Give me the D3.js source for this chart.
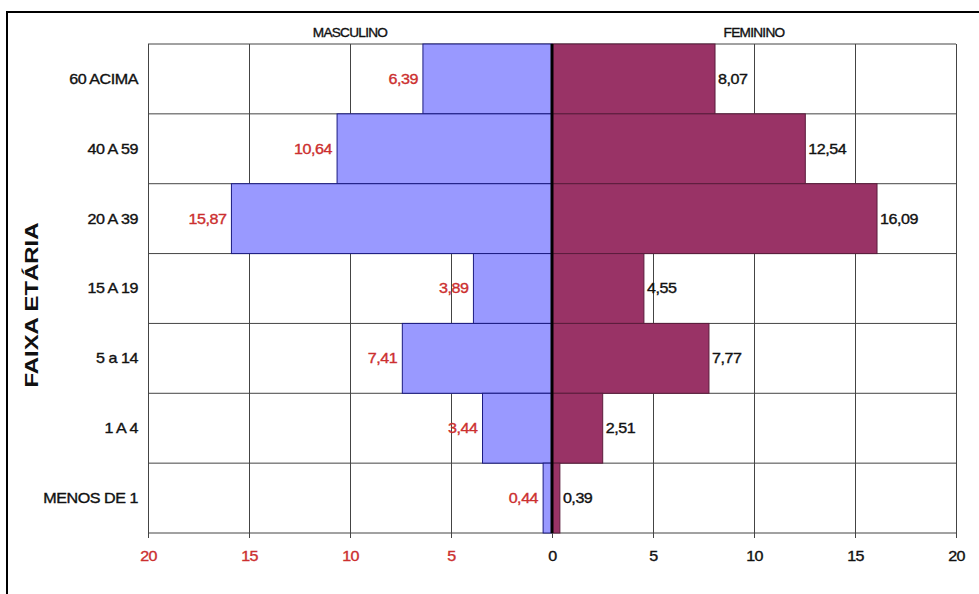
<!DOCTYPE html>
<html>
<head>
<meta charset="utf-8">
<script src="https://cdn.jsdelivr.net/npm/d3@7"></script>
<style>
  html, body { margin: 0; padding: 0; background: #fff; }
  svg { display: block; font-family: "Liberation Sans", Arial, sans-serif; }
  .lbl { stroke-width: 0.35px; }
</style>
</head>
<body>
<svg id="chart" width="979" height="594"></svg>
<script>
// Age groups, top to bottom
const categories = ["60 ACIMA", "40 A 59", "20 A 39", "15 A 19", "5 a 14", "1 A 4", "MENOS DE 1"];
// Percent of population by sex
const masculino = [6.39, 10.64, 15.87, 3.89, 7.41, 3.44, 0.44];
const feminino = [8.07, 12.54, 16.09, 4.55, 7.77, 2.51, 0.39];
// Axis ticks (negative side = male)
const tickValues = [-20, -15, -10, -5, 0, 5, 10, 15, 20];
const sideTitles = ["MASCULINO", "FEMININO"];
const axisTitle = "FAIXA ETÁRIA";

const W = 979, H = 594;
const plot = { left: 148, right: 956, top: 44, bottom: 533 };

const svg = d3.select("#chart");
const stretch = 1.15;
const red = "#cc2f2f", ink = "#111";

const x = d3.scaleLinear().domain([-20, 20]).range([plot.left, plot.right]);
const y = d3.scaleBand().domain(categories).range([plot.top, plot.bottom]).padding(0);

const ptBR = d3.formatLocale({ decimal: ",", thousands: ".", grouping: [3], currency: ["R$", ""] });
const fmt = ptBR.format(".2f");

// Outer frame (left and top edges)
svg.append("path")
  .attr("d", `M7,${H} V12 H${W}`)
  .attr("fill", "none").attr("stroke", "#000").attr("stroke-width", 2);

// Vertical grid lines
svg.append("g")
  .attr("transform", `translate(0,${plot.bottom})`)
  .call(d3.axisBottom(x).tickValues(tickValues).tickSize(-(plot.bottom - plot.top)).tickFormat(""))
  .call(g => g.select(".domain").remove())
  .call(g => g.selectAll("line").attr("stroke", "#444").attr("stroke-width", 1));

// Horizontal row lines
svg.append("g").selectAll("line")
  .data(categories.concat([null]))
  .join("line")
  .attr("x1", plot.left).attr("x2", plot.right)
  .attr("y1", d => d === null ? plot.bottom : y(d))
  .attr("y2", d => d === null ? plot.bottom : y(d))
  .attr("stroke", "#444").attr("stroke-width", 1);

// Male bars (to the left)
svg.append("g").selectAll("rect")
  .data(categories)
  .join("rect")
  .attr("x", (d, i) => x(-masculino[i]))
  .attr("y", d => y(d))
  .attr("width", (d, i) => x(0) - x(-masculino[i]))
  .attr("height", y.bandwidth())
  .attr("fill", "#9999FF")
  .attr("stroke", "#1a1a80").attr("stroke-width", 1);

// Female bars (to the right)
svg.append("g").selectAll("rect")
  .data(categories)
  .join("rect")
  .attr("x", x(0))
  .attr("y", d => y(d))
  .attr("width", (d, i) => x(feminino[i]) - x(0))
  .attr("height", y.bandwidth())
  .attr("fill", "#993366")
  .attr("stroke", "#5a1c3c").attr("stroke-width", 1);

// Zero line
svg.append("line")
  .attr("x1", x(0)).attr("x2", x(0))
  .attr("y1", plot.top).attr("y2", plot.bottom)
  .attr("stroke", "#000").attr("stroke-width", 3);

// Bottom axis with short ticks
const xAxis = svg.append("g")
  .attr("transform", `translate(0,${plot.bottom})`)
  .call(d3.axisBottom(x).tickValues(tickValues).tickSize(5).tickPadding(13).tickFormat(d => Math.abs(d)))
  .call(g => g.select(".domain").remove())
  .call(g => g.selectAll("line").attr("stroke", "#444"));
xAxis.selectAll("text")
  .attr("class", "lbl")
  .attr("font-size", 14)
  .attr("font-family", "Liberation Sans, Arial, sans-serif")
  .attr("letter-spacing", -0.5)
  .attr("fill", d => d < 0 ? red : ink)
  .attr("stroke", d => d < 0 ? red : ink)
  .attr("transform", `scale(${stretch},1)`);

// Category labels
svg.append("g").selectAll("text")
  .data(categories)
  .join("text")
  .attr("class", "lbl")
  .attr("transform", d => `translate(138,${y(d) + y.bandwidth() / 2}) scale(${stretch},1)`)
  .attr("text-anchor", "end")
  .attr("dy", "0.35em")
  .attr("font-size", 14)
  .attr("fill", ink).attr("stroke", ink)
  .attr("letter-spacing", -0.4)
  .text(d => d);

// Male value labels
svg.append("g").selectAll("text")
  .data(categories)
  .join("text")
  .attr("class", "lbl")
  .attr("transform", (d, i) => `translate(${x(-masculino[i]) - 5},${y(d) + y.bandwidth() / 2}) scale(${stretch},1)`)
  .attr("text-anchor", "end")
  .attr("dy", "0.35em")
  .attr("font-size", 14)
  .attr("fill", red).attr("stroke", red)
  .attr("letter-spacing", -0.4)
  .text((d, i) => fmt(masculino[i]));

// Female value labels
svg.append("g").selectAll("text")
  .data(categories)
  .join("text")
  .attr("class", "lbl")
  .attr("transform", (d, i) => `translate(${x(feminino[i]) + 3},${y(d) + y.bandwidth() / 2}) scale(${stretch},1)`)
  .attr("text-anchor", "start")
  .attr("dy", "0.35em")
  .attr("font-size", 14)
  .attr("fill", ink).attr("stroke", ink)
  .attr("letter-spacing", -0.4)
  .text((d, i) => fmt(feminino[i]));

// Side titles above each half
svg.append("g").selectAll("text")
  .data(sideTitles)
  .join("text")
  .attr("class", "lbl")
  .attr("transform", (d, i) => `translate(${i === 0 ? (x(-20) + x(0)) / 2 : (x(0) + x(20)) / 2},37) scale(1.05,1)`)
  .attr("text-anchor", "middle")
  .attr("font-size", 13)
  .attr("letter-spacing", -0.7)
  .attr("fill", ink).attr("stroke", ink)
  .text(d => d);

// Vertical axis title
svg.append("text")
  .attr("transform", "translate(38,305) rotate(-90)")
  .attr("text-anchor", "middle")
  .attr("font-size", 18)
  .attr("font-weight", "bold")
  .attr("fill", ink)
  .attr("textLength", 165)
  .attr("lengthAdjust", "spacingAndGlyphs")
  .text(axisTitle);
</script>
</body>
</html>
